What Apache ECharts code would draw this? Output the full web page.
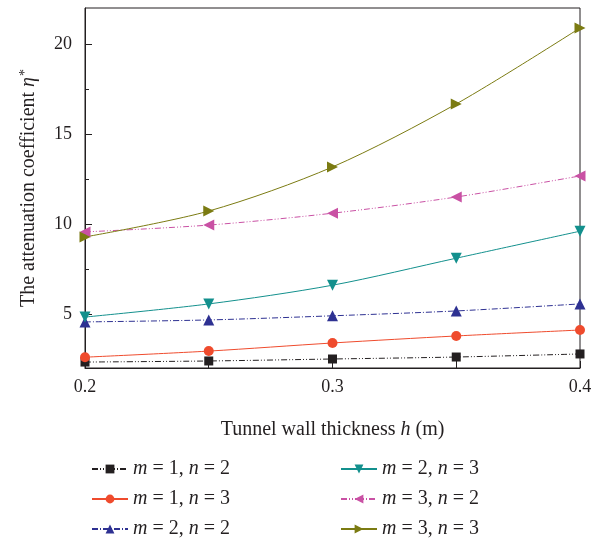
<!DOCTYPE html>
<html><head><meta charset="utf-8">
<script src="https://cdn.jsdelivr.net/npm/echarts@6/dist/echarts.min.js"></script>
<style>html,body{margin:0;padding:0;background:#fff}#c{width:600px;height:539px}</style>
</head><body><div id="c"></div>
<script>
const thickness = [0.2, 0.25, 0.3, 0.35, 0.4];
const m1n2 = [2.33, 2.39, 2.50, 2.61, 2.78];
const m1n3 = [2.60, 2.94, 3.39, 3.78, 4.11];
const m2n2 = [4.56, 4.67, 4.90, 5.17, 5.56];
const m2n3 = [4.83, 5.56, 6.60, 8.10, 9.60];
const m3n2 = [9.56, 9.94, 10.60, 11.50, 12.67];
const m3n3 = [9.28, 10.72, 13.17, 16.67, 20.89];
const yLabelValues = [5, 10, 15, 20];
const yMinorTicks = [7.5, 12.5, 17.5];

const FONT = '"Liberation Serif", "DejaVu Serif", serif';
const INK = '#231f20';
const seriesDefs = [
  {name: 'm12', label: ['1','2'], data: m1n2, color: '#231f20', symbol: 'rect', type: [6,2,1,2,1,2]},
  {name: 'm13', label: ['1','3'], data: m1n3, color: '#ef4b2d', symbol: 'circle', type: 'solid'},
  {name: 'm22', label: ['2','2'], data: m2n2, color: '#2e3192', symbol: 'triangle', type: [6,2,1,2]},
  {name: 'm23', label: ['2','3'], data: m2n3, color: '#13908d', symbol: 'triangle', rotate: 180, type: 'solid'},
  {name: 'm32', label: ['3','2'], data: m3n2, color: '#c951a4', symbol: 'triangle', rotate: 90, type: [6,2,1,2,1,2]},
  {name: 'm33', label: ['3','3'], data: m3n3, color: '#7b7b12', symbol: 'triangle', rotate: -90, type: 'solid'}
];
const labelMap = {};
seriesDefs.forEach(s => labelMap[s.name] = s.label);

const chart = echarts.init(document.getElementById('c'));
const legendCommon = {
  orient: 'vertical', itemWidth: 36, itemHeight: 11, itemGap: 10, height: 100,
  textStyle: {fontFamily: FONT, fontSize: 20, color: INK,
    rich: {i: {fontFamily: FONT, fontSize: 20, fontStyle: 'italic', color: INK},
           r: {fontFamily: FONT, fontSize: 20, color: INK}}},
  formatter: n => { const l = labelMap[n]; return '{i|m}{r| = ' + l[0] + ', }{i|n}{r| = ' + l[1] + '}'; }
};
chart.setOption({
  animation: false,
  grid: {left: 85, right: 20, top: 8, bottom: 171, show: true, borderColor: INK, borderWidth: 1},
  legend: [
    Object.assign({left: 86, top: 454, data: ['m12','m13','m22']}, legendCommon),
    Object.assign({left: 335, top: 454, data: ['m23','m32','m33']}, legendCommon)
  ],
  xAxis: {
    type: 'value', min: 0.2, max: 0.4, interval: 0.05,
    name: '{r|Tunnel wall thickness }{i|h}{r| (m)}', nameLocation: 'middle', nameGap: 52,
    nameTextStyle: {rich: {r: {fontFamily: FONT, fontSize: 20, color: INK}, i: {fontFamily: FONT, fontSize: 20, fontStyle: 'italic', color: INK}}},
    axisLine: {lineStyle: {color: INK, width: 1}},
    axisTick: {inside: true, length: 7, lineStyle: {color: INK}},
    splitLine: {show: false},
    axisLabel: {fontFamily: FONT, fontSize: 18, color: INK, margin: 10,
      formatter: v => (Math.round(v*100) % 10 === 0) ? v.toFixed(1) : ''}
  },
  yAxis: [{
    type: 'value', min: 2, max: 22,
    name: '{r|The attenuation coefficient }{i|η}{s|*}', nameLocation: 'middle', nameGap: 45,
    nameTextStyle: {rich: {r: {fontFamily: FONT, fontSize: 20, color: INK}, i: {fontFamily: FONT, fontSize: 20, fontStyle: 'italic', color: INK}, s: {fontFamily: FONT, fontSize: 14, color: INK, verticalAlign: 'top', padding: [0,0,8,1]}}},
    axisLine: {show: true, lineStyle: {color: INK, width: 1}},
    axisTick: {show: true, inside: true, length: 7, customValues: yLabelValues, lineStyle: {color: INK}},
    axisLabel: {fontFamily: FONT, fontSize: 18, color: INK, margin: 13, customValues: yLabelValues},
    splitLine: {show: false}
  }, {
    type: 'value', min: 2, max: 22, position: 'left',
    axisLine: {show: false},
    axisTick: {show: true, inside: true, length: 4, customValues: yMinorTicks, lineStyle: {color: INK}},
    axisLabel: {show: false, customValues: yMinorTicks},
    splitLine: {show: false}
  }],
  series: seriesDefs.map(s => ({
    name: s.name, type: 'line', smooth: 0.3,
    data: thickness.map((x, i) => [x, s.data[i]]),
    symbol: s.symbol, symbolSize: s.symbol === 'rect' ? 9 : (s.symbol === 'circle' ? 10 : 11), symbolRotate: s.rotate || 0,
    showAllSymbol: true, clip: false,
    itemStyle: {color: s.color},
    lineStyle: {color: s.color, width: 1, type: s.type}
  }))
});
</script></body></html>
